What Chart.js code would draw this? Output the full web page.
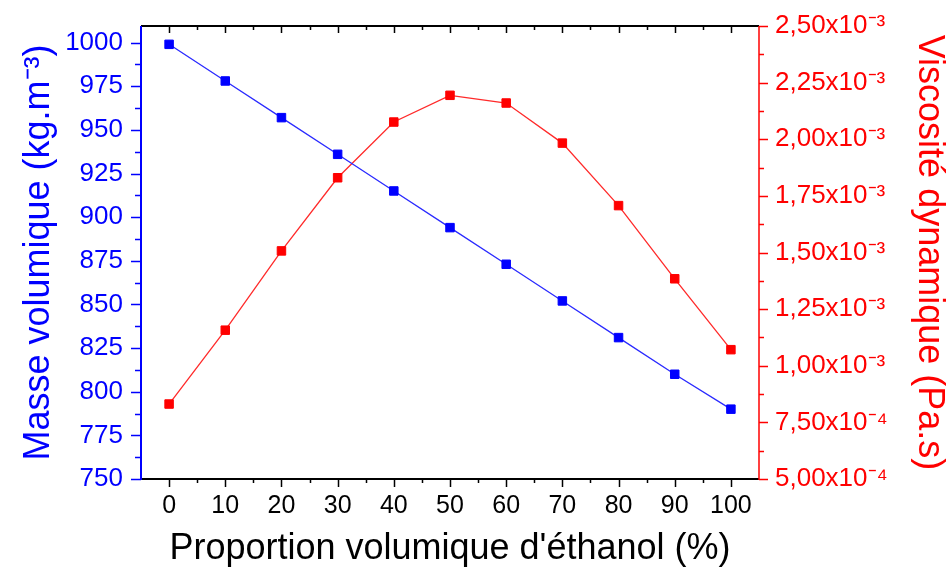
<!DOCTYPE html>
<html>
<head>
<meta charset="utf-8">
<script src="https://cdn.jsdelivr.net/npm/chart.js@4/dist/chart.umd.min.js"></script>
<style>
  html, body { margin: 0; padding: 0; background: #ffffff; }
  #c { display: block; }
</style>
</head>
<body>
<canvas id="c" width="947" height="568"></canvas>
<script>
// ---- Data ----
const proportions = [0, 10, 20, 30, 40, 50, 60, 70, 80, 90, 100];
const masseVolumique = [999, 978, 957, 936, 915, 894, 873, 852, 831, 810, 790];
const viscosite = [0.000831, 0.001157, 0.001507, 0.001830, 0.002076, 0.002194, 0.002160, 0.001983, 0.001707, 0.001384, 0.001071];

// ---- Tick labels ----
const xTicks = [0, 10, 20, 30, 40, 50, 60, 70, 80, 90, 100];
const leftTicks = [750, 775, 800, 825, 850, 875, 900, 925, 950, 975, 1000];
const rightTicks = [0.0005, 0.00075, 0.001, 0.00125, 0.0015, 0.00175, 0.002, 0.00225, 0.0025];
const rightTickLabels = ['5,00x10⁻⁴', '7,50x10⁻⁴', '1,00x10⁻³', '1,25x10⁻³', '1,50x10⁻³', '1,75x10⁻³', '2,00x10⁻³', '2,25x10⁻³', '2,50x10⁻³'];

const FONT = "'Liberation Sans', Arial, sans-serif";
const BLUE = '#0000ff';
const RED = '#ff0000';

function fixTicks(values) {
  return function (scale) { scale.ticks = values.map(v => ({ value: v })); };
}
function fitTo(prop, size) {
  return function (scale) {
    scale[prop] = size;
    scale.paddingTop = 0; scale.paddingBottom = 0;
    scale.paddingLeft = 0; scale.paddingRight = 0;
  };
}
function midpoints(arr) {
  const out = [];
  for (let i = 0; i < arr.length - 1; i++) out.push((arr[i] + arr[i + 1]) / 2);
  return out;
}

const axesPlugin = {
  id: 'originAxes',
  beforeDatasetsDraw(chart) {
    const ctx = chart.ctx;
    const a = chart.chartArea;
    const sx = chart.scales.x, sl = chart.scales.yL, sr = chart.scales.yR;
    ctx.save();
    ctx.lineCap = 'butt';
    // x ticks (bottom outward, top inward)
    const xMinor = midpoints(xTicks);
    ctx.strokeStyle = '#000000';
    ctx.lineWidth = 1.5;
    ctx.beginPath();
    xTicks.forEach(v => {
      const p = Math.round(sx.getPixelForValue(v)) + 0.5;
      ctx.moveTo(p, a.bottom); ctx.lineTo(p, a.bottom + 8);
      ctx.moveTo(p, a.top); ctx.lineTo(p, a.top + 7);
    });
    xMinor.forEach(v => {
      const p = Math.round(sx.getPixelForValue(v)) + 0.5;
      ctx.moveTo(p, a.bottom); ctx.lineTo(p, a.bottom + 4);
      ctx.moveTo(p, a.top); ctx.lineTo(p, a.top + 4);
    });
    ctx.stroke();
    // top & bottom lines
    ctx.lineWidth = 2;
    ctx.beginPath();
    ctx.moveTo(a.left, a.bottom); ctx.lineTo(a.right, a.bottom);
    ctx.moveTo(a.left, a.top); ctx.lineTo(a.right, a.top);
    ctx.stroke();
    // left axis
    ctx.strokeStyle = BLUE;
    ctx.lineWidth = 1.5;
    ctx.beginPath();
    leftTicks.forEach(v => {
      const p = Math.round(sl.getPixelForValue(v)) + 0.5;
      ctx.moveTo(a.left, p); ctx.lineTo(a.left - 10, p);
    });
    midpoints(leftTicks).concat([1012.5]).forEach(v => {
      if (v > sl.max) return;
      const p = Math.round(sl.getPixelForValue(v)) + 0.5;
      ctx.moveTo(a.left, p); ctx.lineTo(a.left - 6, p);
    });
    ctx.stroke();
    ctx.lineWidth = 2;
    ctx.beginPath();
    ctx.moveTo(a.left, a.top); ctx.lineTo(a.left, a.bottom + 1);
    ctx.stroke();
    // right axis
    ctx.strokeStyle = RED;
    ctx.lineWidth = 1.5;
    ctx.beginPath();
    rightTicks.forEach(v => {
      const p = Math.round(sr.getPixelForValue(v)) + 0.5;
      ctx.moveTo(a.right, p); ctx.lineTo(a.right + 9, p);
    });
    midpoints(rightTicks).forEach(v => {
      const p = Math.round(sr.getPixelForValue(v)) + 0.5;
      ctx.moveTo(a.right, p); ctx.lineTo(a.right + 5, p);
    });
    ctx.stroke();
    ctx.beginPath();
    ctx.moveTo(a.right, a.top); ctx.lineTo(a.right, a.bottom + 1);
    ctx.stroke();
    ctx.restore();
  }
};

new Chart(document.getElementById('c'), {
  type: 'line',
  data: {
    datasets: [
      {
        label: 'Masse volumique',
        data: proportions.map((p, i) => ({ x: p, y: masseVolumique[i] })),
        yAxisID: 'yL',
        borderColor: '#2a2aff',
        backgroundColor: BLUE,
        pointBackgroundColor: BLUE,
        pointBorderColor: BLUE,
        borderWidth: 1.3,
        pointStyle: 'rect',
        pointRadius: 6,
        pointBorderWidth: 1,
        tension: 0,
        fill: false
      },
      {
        label: 'Viscosité dynamique',
        data: proportions.map((p, i) => ({ x: p, y: viscosite[i] })),
        yAxisID: 'yR',
        borderColor: '#ff2a2a',
        backgroundColor: RED,
        pointBackgroundColor: RED,
        pointBorderColor: RED,
        borderWidth: 1.3,
        pointStyle: 'rect',
        pointRadius: 6,
        pointBorderWidth: 1,
        tension: 0,
        fill: false
      }
    ]
  },
  options: {
    responsive: false,
    animation: false,
    devicePixelRatio: 1,
    layout: { padding: { top: 26, left: 0, right: 0, bottom: 0 } },
    plugins: { legend: { display: false }, tooltip: { enabled: false } },
    scales: {
      x: {
        type: 'linear',
        position: 'bottom',
        min: -5,
        max: 105,
        afterBuildTicks: fixTicks(xTicks),
        afterFit: fitTo('height', 89),
        grid: { display: false, drawTicks: false },
        border: { display: false },
        ticks: {
          color: '#000000',
          padding: 12,
          maxRotation: 0,
          autoSkip: false,
          font: { family: FONT, size: 25 },
          callback: v => String(v)
        },
        title: {
          display: true,
          text: "Proportion volumique d'éthanol (%)",
          color: '#000000',
          font: { family: FONT, size: 36, lineHeight: 1 },
          padding: { top: 0, bottom: 1 }
        }
      },
      yL: {
        type: 'linear',
        position: 'left',
        min: 750,
        max: 1009.5,
        afterBuildTicks: fixTicks(leftTicks),
        afterFit: fitTo('width', 141),
        grid: { display: false, drawTicks: false },
        border: { display: false },
        ticks: {
          color: BLUE,
          padding: 18,
          autoSkip: false,
          font: { family: FONT, size: 26 },
          callback: v => String(v)
        },
        title: {
          display: true,
          text: 'Masse volumique (kg.m⁻³)',
          color: BLUE,
          font: { family: FONT, size: 36, lineHeight: 1 },
          padding: { top: 21, bottom: 0 }
        }
      },
      yR: {
        type: 'linear',
        position: 'right',
        min: 0.0005,
        max: 0.0025,
        afterBuildTicks: fixTicks(rightTicks),
        afterFit: fitTo('width', 188),
        grid: { display: false, drawTicks: false },
        border: { display: false },
        ticks: {
          color: RED,
          padding: 16,
          autoSkip: false,
          font: { family: FONT, size: 26 },
          callback: function (value) {
            const i = rightTicks.findIndex(t => Math.abs(t - value) < 1e-9);
            return i >= 0 ? rightTickLabels[i] : '';
          }
        },
        title: {
          display: true,
          text: 'Viscosité dynamique (Pa.s)',
          color: RED,
          font: { family: FONT, size: 36, lineHeight: 1 },
          padding: { top: 0, bottom: 0 }
        }
      }
    }
  },
  plugins: [axesPlugin]
});
</script>
</body>
</html>
